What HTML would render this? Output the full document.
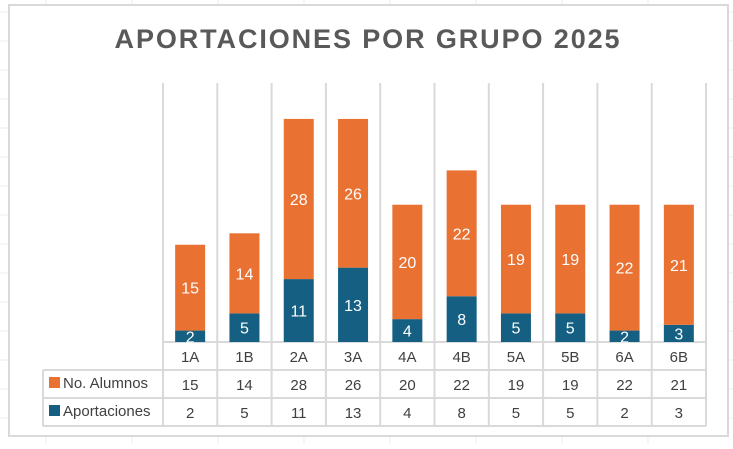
<!DOCTYPE html>
<html><head><meta charset="utf-8">
<style>
body{margin:0;background:#fff;width:733px;height:444px;overflow:hidden;font-family:"Liberation Sans",sans-serif}
</style></head><body>
<svg id="chart" width="733" height="444">
<g id="bg"></g>
<rect x="9" y="5" width="719" height="431" fill="#fff" stroke="#d9d9d9" stroke-width="2"/>
<text x="368" y="48" text-anchor="middle" font-size="27" font-weight="bold" fill="#595959" letter-spacing="1.9">APORTACIONES POR GRUPO 2025</text>
<g id="plot"></g>
</svg>
<script>
const categories=["1A","1B","2A","3A","4A","4B","5A","5B","6A","6B"];
const aportaciones=[2,5,11,13,4,8,5,5,2,3];
const alumnos=[15,14,28,26,20,22,19,19,22,21];
const NS="http://www.w3.org/2000/svg";
const plot=document.getElementById('plot');
const bg=document.getElementById('bg');
const L=163,R=706,B=342,T=83,unit=5.72,cw=(R-L)/categories.length,bw=30;
const O="#e97132",Bl="#156082",G="#d9d9d9";
function el(t,a,p){const e=document.createElementNS(NS,t);for(const k in a)e.setAttribute(k,a[k]);(p||plot).appendChild(e);return e;}
function x(i){return L+cw*i;}
function y(v){return B-v*unit;}
for(let gx=-40;gx<733;gx+=86){const l=el('line',{x1:gx,y1:0,x2:gx,y2:444,stroke:'#ececec'},bg);}
for(let gy=12;gy<444;gy+=29){const l=el('line',{x1:0,y1:gy,x2:733,y2:gy,stroke:'#ececec'},bg);}
for(let i=0;i<=categories.length;i++){
 const l=el('line',{x1:x(i),y1:T,x2:x(i),y2:426,stroke:G,'stroke-width':2});
 
}
[[43,370],[43,398],[43,426]].forEach(([a,b])=>{const l=el('line',{x1:a,y1:b,x2:R,y2:b,stroke:G,'stroke-width':2});});
const l0=el('line',{x1:43,y1:370,x2:43,y2:426,stroke:G,'stroke-width':2});

const l1=el('line',{x1:L,y1:B,x2:R,y2:B,stroke:G,'stroke-width':2});

categories.forEach((c,i)=>{
 const cx=x(i)+cw/2;
 const a=aportaciones[i],n=alumnos[i];
 const r1=el('rect',{x:cx-bw/2,y:y(a),width:bw,height:a*unit,fill:Bl});
 
 const r2=el('rect',{x:cx-bw/2,y:y(a+n),width:bw,height:n*unit,fill:O});
 
 const t1=el('text',{x:cx,y:Math.max(y(a/2)+6,B-1),'text-anchor':'middle','font-size':16,fill:'#fff'});t1.textContent=a;
 if(a>=3)t1.setAttribute('y',y(a/2)+6);
 
 const t2=el('text',{x:cx,y:y(a+n/2)+6,'text-anchor':'middle','font-size':16,fill:'#fff'});t2.textContent=n;
 
 const t3=el('text',{x:cx,y:362,'text-anchor':'middle','font-size':15,fill:'#404040'});t3.textContent=c;
 
 const t4=el('text',{x:cx,y:390,'text-anchor':'middle','font-size':15,fill:'#404040'});t4.textContent=n;
 
 const t5=el('text',{x:cx,y:418,'text-anchor':'middle','font-size':15,fill:'#404040'});t5.textContent=a;
 
});
const k1=el('rect',{x:49,y:377,width:11,height:11,fill:O});
const k2=el('rect',{x:49,y:405,width:11,height:11,fill:Bl});
const g1=el('text',{x:63,y:388,'font-size':15,fill:'#404040'});g1.textContent='No. Alumnos';

const g2=el('text',{x:63,y:416,'font-size':15,fill:'#404040'});g2.textContent='Aportaciones';

</script>
</body></html>
